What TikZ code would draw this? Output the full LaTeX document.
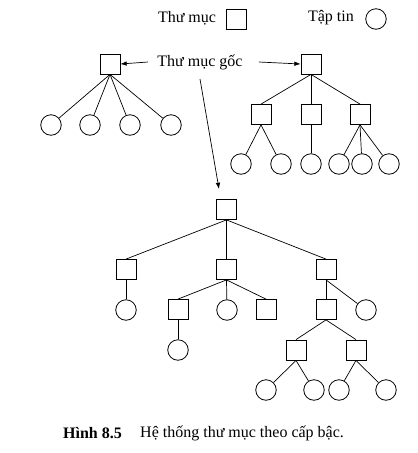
\documentclass[tikz,border=0pt]{standalone}
\usepackage{fontspec}
\setmainfont{Liberation Serif}
\usetikzlibrary{arrows.meta}

\begin{document}
\begin{tikzpicture}[
    x=1pt, y=-1pt,
    >={Latex[length=2.2mm, width=1.6mm]},
    dir/.style  = {draw=black, line width=0.8pt, minimum size=20pt, inner sep=0pt, fill=white},
    fil/.style  = {circle, draw=black, line width=0.8pt, minimum size=20.5pt, inner sep=0pt, fill=white},
    lnk/.style  = {draw=black, line width=0.7pt},
    ptr/.style  = {->, draw=black, line width=0.7pt},
    lbl/.style  = {font=\fontsize{16}{18}\selectfont, inner sep=0pt},
    capt/.style = {font=\fontsize{16}{18}\selectfont, inner sep=0pt, anchor=west}
  ]
  \useasboundingbox (0,0) rectangle (418,453);

  % --- legend (top) ---
  \node[lbl] (lgdir)  at (187,18) {Thư mục};
  \node[dir] (lgsq)   at (236,19) {};
  \node[lbl] (lgfile) at (331,18) {Tập tin};
  \node[fil] (lgcirc) at (376,19) {};

  % --- root label and its pointers ---
  \node[lbl] (goc) at (200,62) {Thư mục gốc};
  \coordinate (gl) at (148,62);
  \coordinate (gr) at (259,62);
  \coordinate (gd) at (200,79);
  \coordinate (ge) at (219,189);

  % --- flat tree (left) ---
  \node[dir] (A) at (110,64) {};
  \foreach \x [count=\i] in {51,90,130,171}
    \node[fil] (A\i) at (\x,125) {};
  \foreach \i in {1,...,4}
    \draw[lnk] (A.south) -- (A\i);

  % --- two-level tree (right) ---
  \node[dir] (B)  at (311,64) {};
  \node[dir] (B1) at (261,114.5) {};
  \node[dir] (B2) at (311,114.5) {};
  \node[dir] (B3) at (360,114.5) {};
  \node[fil] (B11) at (241,164) {};
  \node[fil] (B12) at (281,164) {};
  \node[fil] (B21) at (311,164) {};
  \node[fil] (B31) at (339,164) {};
  \node[fil] (B32) at (362,164) {};
  \node[fil] (B33) at (389,164) {};

  \foreach \i in {1,2,3}
    \draw[lnk] (B.south) -- (B\i.north);
  \draw[lnk] (B1.south) -- (B11);
  \draw[lnk] (B1.south) -- (B12);
  \draw[lnk] (B2.south) -- (B21);
  \draw[lnk] (B3.south) -- (B31);
  \draw[lnk] (B3.south) -- (B32);
  \draw[lnk] (B3.south) -- (B33);

  % --- deep tree (bottom) ---
  \node[dir] (C)  at (226.5,209.5) {};
  \node[dir] (C1) at (126,269.5) {};
  \node[dir] (C2) at (226.5,269.5) {};
  \node[dir] (C3) at (326,269.5) {};

  \node[fil] (C11) at (126,310) {};
  \node[dir] (C21) at (178,309.5) {};
  \node[fil] (C22) at (227,310) {};
  \node[dir] (C23) at (266,309.5) {};
  \node[dir] (C31) at (326,309.5) {};
  \node[fil] (C32) at (366,310) {};

  \node[fil] (C211) at (178,350) {};
  \node[dir] (C311) at (296,350) {};
  \node[dir] (C312) at (356,350) {};

  \node[fil] (C3111) at (266,390) {};
  \node[fil] (C3112) at (314,390) {};
  \node[fil] (C3121) at (339,390) {};
  \node[fil] (C3122) at (386,390) {};

  \foreach \i in {1,2,3}
    \draw[lnk] (C.south) -- (C\i.north);
  \draw[lnk] (C1.south) -- (C11);
  \draw[lnk] (C2.south) -- (C21.north);
  \draw[lnk] (C2.south) -- (C22);
  \draw[lnk] (C2.south) -- (C23.north);
  \draw[lnk] (C3.south) -- (C31.north);
  \draw[lnk] (C3.south) -- (C32);
  \draw[lnk] (C21.south) -- (C211);
  \draw[lnk] (C31.south) -- (C311.north);
  \draw[lnk] (C31.south) -- (C312.north);
  \draw[lnk] (C311.south) -- (C3111);
  \draw[lnk] (C311.south) -- (C3112);
  \draw[lnk] (C312.south) -- (C3121);
  \draw[lnk] (C312.south) -- (C3122);

  % --- pointers to the roots ---
  \draw[ptr] (gl) -- (A.east);
  \draw[ptr] (gr) -- (B.west);
  \draw[ptr] (gd) -- (ge);

  % --- caption ---
  \node[capt, font=\fontsize{16}{18}\selectfont\bfseries] (fig) at (63,433) {Hình 8.5};
  \node[capt] (title) at (140,433) {Hệ thống thư mục theo cấp bậc.};

\end{tikzpicture}
\end{document}
